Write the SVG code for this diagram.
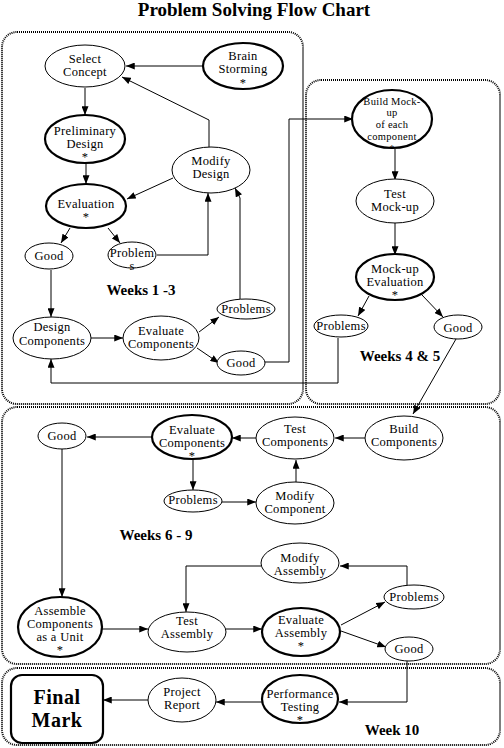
<svg xmlns="http://www.w3.org/2000/svg" width="504" height="748" viewBox="0 0 504 748">
<style>
text{font-family:"Liberation Serif","Times New Roman",serif;font-size:12.5px;letter-spacing:0.3px;fill:#000;text-anchor:middle}
.sm{font-size:10.5px;letter-spacing:0.3px}
.wk{font-weight:bold;font-size:15px;letter-spacing:0}
.title{font-weight:bold;font-size:19px;letter-spacing:0}
.fm{font-weight:bold;font-size:20px;letter-spacing:0.5px}
.n{fill:#fff;stroke:#000;stroke-width:1}
.b{fill:#fff;stroke:#000;stroke-width:2.2}
.box{fill:none;stroke:#000;stroke-width:2;stroke-dasharray:1 1}
.c{fill:none;stroke:#000;stroke-width:1;marker-end:url(#ah)}
</style>
<defs>
<marker id="ah" viewBox="0 0 10 8" refX="10" refY="4" markerWidth="9" markerHeight="7" markerUnits="userSpaceOnUse" orient="auto">
<path d="M0,0 L10,4 L0,8 Z" fill="#000"/>
</marker>
</defs>
<rect width="504" height="748" fill="#fff"/>
<text class="title" x="254" y="16">Problem Solving Flow Chart</text>
<g id="frames">
<rect class="box" x="2" y="32" width="301" height="372" rx="15"/>
<rect class="box" x="306" y="80" width="194" height="324" rx="15"/>
<rect class="box" x="2" y="407" width="498" height="257" rx="15"/>
<rect class="box" x="2" y="668" width="498" height="77" rx="15"/>
<text class="wk" x="141" y="295">Weeks 1 -3</text>
<text class="wk" x="400" y="361">Weeks 4 &amp; 5</text>
<text class="wk" x="156" y="540">Weeks 6 - 9</text>
<text class="wk" x="392" y="735">Week 10</text>
</g>
<g id="connectors">
<path class="c" d="M203,66 L126,66"/>
<path class="c" d="M209,147 L209,120 L122,77"/>
<path class="c" d="M85,88 L85,115"/>
<path class="c" d="M86,163 L86,184"/>
<path class="c" d="M173,178 L127,199"/>
<path class="c" d="M157,255 L208,255 L208,193"/>
<path class="c" d="M240,299 L240,198 L235,188"/>
<path class="c" d="M70,228 L61,243"/>
<path class="c" d="M108,228 L120,243"/>
<path class="c" d="M51,270 L51,317"/>
<path class="c" d="M91,338 L123,338"/>
<path class="c" d="M199,332 L219,317"/>
<path class="c" d="M197,348 L219,363"/>
<path class="c" d="M265,362 L289,362 L289,119 L353,119"/>
<path class="c" d="M338,338 L338,383 L51,383 L51,359"/>
<path class="c" d="M395,149 L395,180"/>
<path class="c" d="M395,223 L395,255"/>
<path class="c" d="M369,296 L358,316"/>
<path class="c" d="M422,295 L443,317"/>
<path class="c" d="M456,339 L413,414"/>
<path class="c" d="M365,438 L335,438"/>
<path class="c" d="M256,438 L232,438"/>
<path class="c" d="M153,437 L87,437"/>
<path class="c" d="M193,459 L193,490"/>
<path class="c" d="M222,502 L256,502"/>
<path class="c" d="M296,482 L296,460"/>
<path class="c" d="M62,449 L62,597"/>
<path class="c" d="M102,629 L148,629"/>
<path class="c" d="M226,629 L262,629"/>
<path class="c" d="M341,625 L385,602"/>
<path class="c" d="M341,631 L386,647"/>
<path class="c" d="M407,585 L407,566 L340,566"/>
<path class="c" d="M261,566 L186,566 L186,612"/>
<path class="c" d="M407,661 L407,702 L339,702"/>
<path class="c" d="M262,702 L216,702"/>
<path class="c" d="M148,700 L103,700"/>
</g>
<g id="select-concept"><ellipse class="n" cx="85" cy="66" rx="40" ry="21"/><text x="85" y="63">Select</text><text x="85" y="76">Concept</text></g>
<g id="brain-storming"><ellipse class="b" cx="243" cy="66" rx="40" ry="23"/><text x="243" y="60">Brain</text><text x="243" y="73">Storming</text><text x="243" y="87">*</text></g>
<g id="preliminary-design"><ellipse class="b" cx="85" cy="139" rx="40" ry="24"/><text x="85" y="135">Preliminary</text><text x="85" y="148">Design</text><text x="85" y="161">*</text></g>
<g id="modify-design"><ellipse class="n" cx="211" cy="170" rx="39" ry="23"/><text x="211" y="165">Modify</text><text x="211" y="178">Design</text></g>
<g id="evaluation"><ellipse class="b" cx="86" cy="206" rx="40" ry="22"/><text x="86" y="208">Evaluation</text><text x="86" y="221">*</text></g>
<g id="good1"><ellipse class="n" cx="49" cy="256" rx="24" ry="13"/><text x="49" y="260">Good</text></g>
<g id="problems1"><ellipse class="n" cx="132" cy="255" rx="24" ry="13"/><text x="132" y="257">Problem</text><text x="132" y="270">s</text></g>
<g id="design-components"><ellipse class="n" cx="52" cy="338" rx="39" ry="21"/><text x="52" y="331">Design</text><text x="52" y="345">Components</text></g>
<g id="evaluate-components1"><ellipse class="n" cx="161" cy="338" rx="38" ry="22"/><text x="161" y="335">Evaluate</text><text x="161" y="348">Components</text></g>
<g id="problems2"><ellipse class="n" cx="246" cy="309" rx="29" ry="10"/><text x="246" y="313">Problems</text></g>
<g id="good2"><ellipse class="n" cx="241" cy="363" rx="24" ry="12"/><text x="241" y="367">Good</text></g>
<g id="build-mockup"><ellipse class="b" cx="392" cy="119" rx="40" ry="29"/><text class="sm" x="392" y="105">Build Mock-</text><text class="sm" x="392" y="116">up</text><text class="sm" x="392" y="128">of each</text><text class="sm" x="392" y="140">component</text><text class="sm" x="392" y="152">*</text></g>
<g id="test-mockup"><ellipse class="n" cx="395" cy="201" rx="39" ry="22"/><text x="395" y="198">Test</text><text x="395" y="211">Mock-up</text></g>
<g id="mockup-evaluation"><ellipse class="b" cx="395" cy="277" rx="39" ry="23"/><text x="395" y="273">Mock-up</text><text x="395" y="286">Evaluation</text><text x="395" y="299">*</text></g>
<g id="problems3"><ellipse class="n" cx="341" cy="326" rx="27" ry="11"/><text x="341" y="330">Problems</text></g>
<g id="good3"><ellipse class="n" cx="458" cy="327" rx="24" ry="12"/><text x="458" y="332">Good</text></g>
<g id="good4"><ellipse class="n" cx="62" cy="436" rx="24" ry="13"/><text x="62" y="440">Good</text></g>
<g id="evaluate-components2"><ellipse class="b" cx="192" cy="437" rx="40" ry="22"/><text x="192" y="434">Evaluate</text><text x="192" y="447">Components</text><text x="192" y="460">*</text></g>
<g id="problems4"><ellipse class="n" cx="193" cy="501" rx="29" ry="11"/><text x="193" y="504">Problems</text></g>
<g id="test-components"><ellipse class="n" cx="295" cy="438" rx="39" ry="21"/><text x="295" y="433">Test</text><text x="295" y="446">Components</text></g>
<g id="build-components"><ellipse class="n" cx="404" cy="438" rx="39" ry="22"/><text x="404" y="433">Build</text><text x="404" y="446">Components</text></g>
<g id="modify-component"><ellipse class="n" cx="295" cy="503" rx="39" ry="21"/><text x="295" y="500">Modify</text><text x="295" y="513">Component</text></g>
<g id="modify-assembly"><ellipse class="n" cx="300" cy="563" rx="39" ry="20"/><text x="300" y="562">Modify</text><text x="300" y="575">Assembly</text></g>
<g id="problems5"><ellipse class="n" cx="414" cy="597" rx="30" ry="12"/><text x="414" y="601">Problems</text></g>
<g id="evaluate-assembly"><ellipse class="b" cx="301" cy="632" rx="39" ry="24"/><text x="301" y="624">Evaluate</text><text x="301" y="637">Assembly</text><text x="301" y="650">*</text></g>
<g id="good5"><ellipse class="n" cx="409" cy="649" rx="24" ry="12"/><text x="409" y="653">Good</text></g>
<g id="assemble-unit"><ellipse class="b" cx="60" cy="627" rx="42" ry="30"/><text x="60" y="615">Assemble</text><text x="60" y="628">Components</text><text x="60" y="641">as a Unit</text><text x="60" y="654">*</text></g>
<g id="test-assembly"><ellipse class="n" cx="187" cy="632" rx="39" ry="20"/><text x="187" y="625">Test</text><text x="187" y="638">Assembly</text></g>
<g id="final-mark"><rect x="11" y="675" width="92" height="68" rx="11" fill="#fff" stroke="#000" stroke-width="2.2"/><text class="fm" x="57" y="704">Final</text><text class="fm" x="57" y="727">Mark</text></g>
<g id="project-report"><ellipse class="n" cx="182" cy="700" rx="34" ry="22"/><text x="182" y="696">Project</text><text x="182" y="709">Report</text></g>
<g id="performance-testing"><ellipse class="b" cx="300" cy="699" rx="38" ry="24"/><text x="300" y="698">Performance</text><text x="300" y="711">Testing</text><text x="300" y="724">*</text></g>
</svg>
